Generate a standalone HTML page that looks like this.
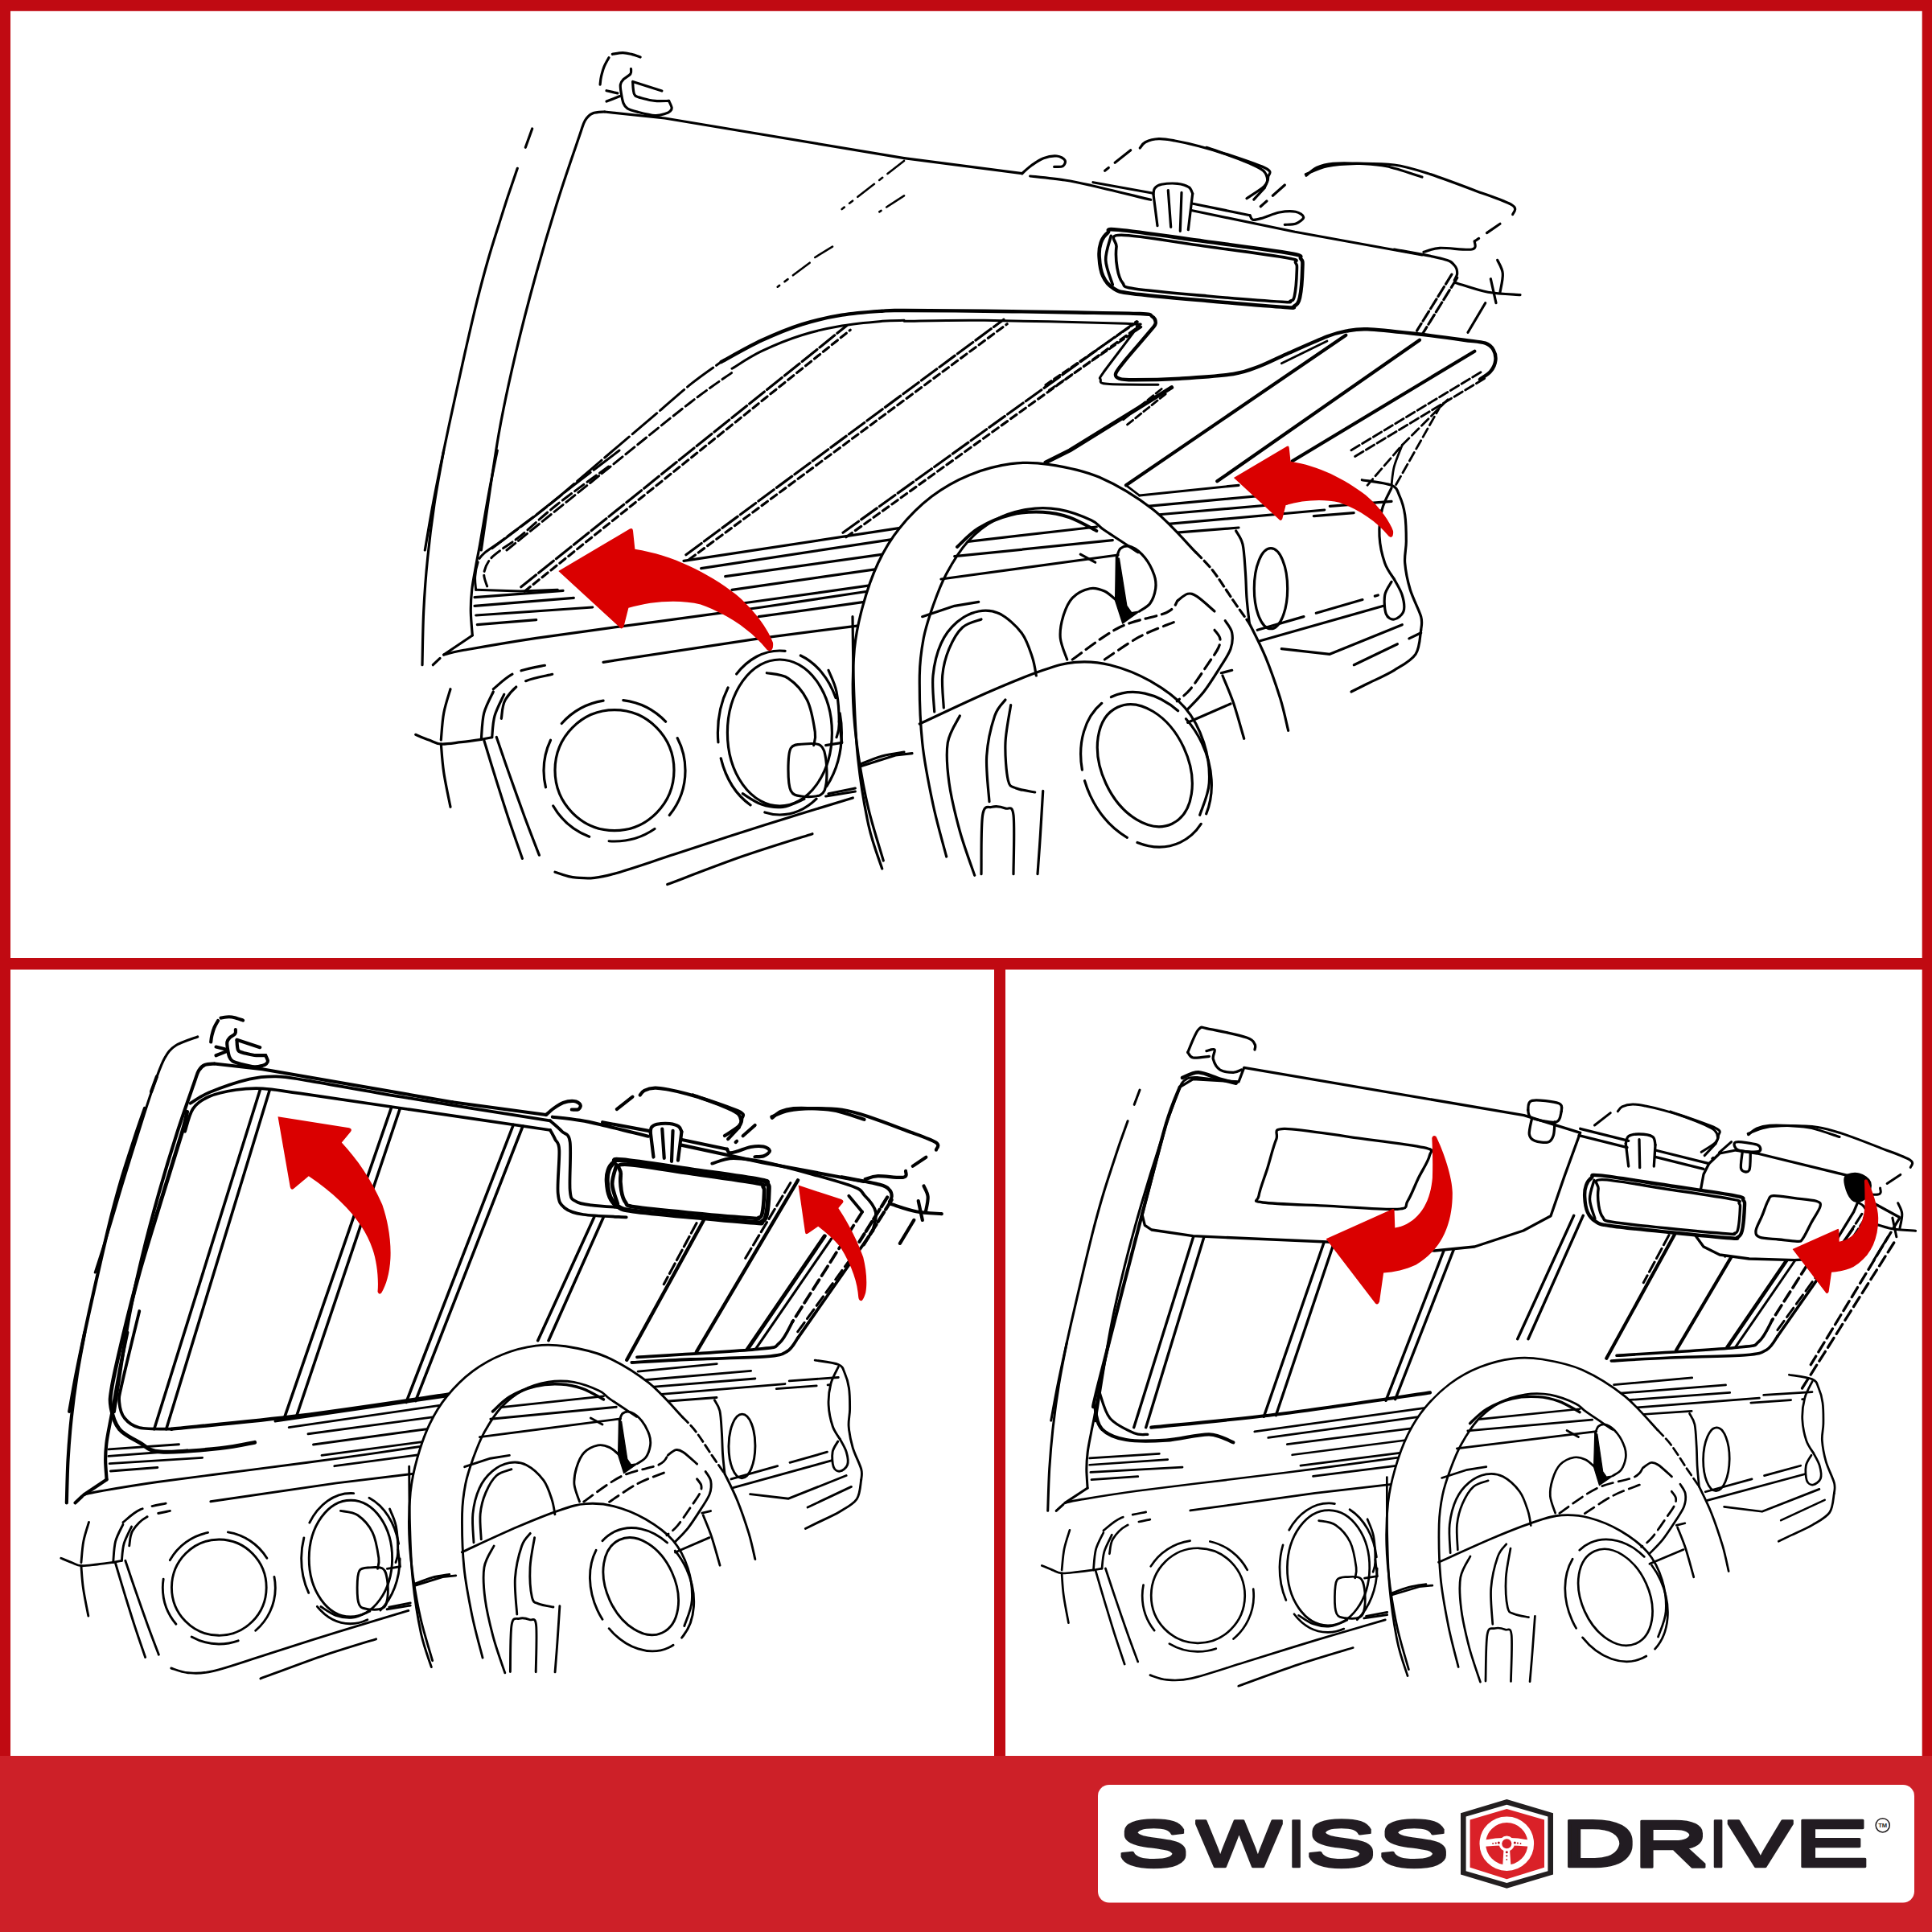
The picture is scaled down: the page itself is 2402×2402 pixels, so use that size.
<!DOCTYPE html>
<html><head><meta charset="utf-8"><title>Swiss Drive</title>
<style>
html,body{margin:0;padding:0;background:#fff;}
body{width:2402px;height:2402px;overflow:hidden;position:relative;font-family:"Liberation Sans",sans-serif;}
svg{position:absolute;left:0;top:0;display:block}
.k{fill:none;stroke:#000;stroke-linecap:round;stroke-linejoin:round}
</style></head><body>
<svg xmlns="http://www.w3.org/2000/svg" xmlns:xlink="http://www.w3.org/1999/xlink" width="2402" height="2402" viewBox="0 0 2402 2402">
<rect x="0" y="0" width="2402" height="2402" fill="#c00a12"/>
<rect x="13" y="13.800" width="2376.7" height="1177.2" fill="#fff"/>
<rect x="13" y="1205.5" width="1223" height="977.5" fill="#fff"/>
<rect x="1250" y="1205.5" width="1139.7" height="977.5" fill="#fff"/>
<rect x="0" y="2183" width="2402" height="219" fill="#cd2028"/>
<rect x="1365" y="2219" width="1015" height="146.500" rx="14" fill="#fff"/>
<!-- logo.svg -->
<filter id="thk" x="-0.02" y="-0.2" width="1.04" height="1.4"><feMorphology operator="dilate" radius="0 1.50"/></filter>
<g font-family="'Liberation Sans',sans-serif" font-size="100" fill="#231f20" stroke="#231f20" stroke-width="3.2" stroke-linejoin="round" filter="url(#thk)">
<text transform="translate(0,2318.80) scale(1,0.7786)" vector-effect="non-scaling-stroke"><tspan x="1389.56" textLength="88.97" lengthAdjust="spacingAndGlyphs">S</tspan><tspan x="1487.34" textLength="106.29" lengthAdjust="spacingAndGlyphs">W</tspan><tspan x="1599.77" textLength="23.64" lengthAdjust="spacingAndGlyphs">I</tspan><tspan x="1623.24" textLength="87.81" lengthAdjust="spacingAndGlyphs">S</tspan><tspan x="1713.18" textLength="88.74" lengthAdjust="spacingAndGlyphs">S</tspan></text>
<text transform="translate(0,2318.80) scale(1,0.7786)" vector-effect="non-scaling-stroke"><tspan x="1940.40" textLength="93.32" lengthAdjust="spacingAndGlyphs">D</tspan><tspan x="2030.65" textLength="93.78" lengthAdjust="spacingAndGlyphs">R</tspan><tspan x="2124.27" textLength="23.64" lengthAdjust="spacingAndGlyphs">I</tspan><tspan x="2148.90" textLength="79.59" lengthAdjust="spacingAndGlyphs">V</tspan><tspan x="2230.13" textLength="94.14" lengthAdjust="spacingAndGlyphs">E</tspan></text>
</g>
<polygon points="1873.3,2237 1931,2254.3 1931,2330.4 1873.3,2347.7 1816,2330.4 1816,2254.3" fill="#231f20"/>
<polygon points="1873.3,2243.8 1924.4,2258.6 1924.4,2326.2 1873.3,2341 1822.6,2326.2 1822.6,2258.6" fill="#fff"/>
<polygon points="1873.3,2249 1920,2262.4 1920,2321.8 1873.3,2336.2 1827.6,2321.8 1827.6,2262.4" fill="#da2128"/>
<circle cx="1873.3" cy="2292.2" r="30" fill="none" stroke="#fff" stroke-width="7.6"/>
<path d="M1845.3,2287.7 Q1873.3,2281.7 1901.3,2287.7 L1901.3,2295.7 Q1873.3,2292.7 1845.3,2295.7 Z" fill="#fff"/>
<path d="M1869.7,2296.2 L1876.9,2296.2 L1878.5,2321.2 L1868.1,2321.2 Z" fill="#fff"/>
<circle cx="1873.3" cy="2292.2" r="9.6" fill="#fff"/>
<circle cx="1873.3" cy="2292.2" r="6" fill="#d81f27"/>
<circle cx="1863.3" cy="2291.0" r="1.5" fill="#b5121b"/>
<circle cx="1883.3" cy="2291.0" r="1.5" fill="#b5121b"/>
<circle cx="1873.3" cy="2302.7" r="1.5" fill="#b5121b"/>
<circle cx="1859.7" cy="2291.5" r="1.1" fill="#b5121b"/>
<circle cx="1886.9" cy="2291.5" r="1.1" fill="#b5121b"/>
<circle cx="1873.3" cy="2307.3" r="1.1" fill="#b5121b"/>
<circle cx="1856.1" cy="2292.0" r="0.9" fill="#b5121b"/>
<circle cx="1890.5" cy="2292.0" r="0.9" fill="#b5121b"/>
<circle cx="1873.3" cy="2311.9" r="0.9" fill="#b5121b"/>
<circle cx="2340.7" cy="2269.3" r="8.6" fill="#fff" stroke="#231f20" stroke-width="1.5"/>
<text x="2340.7" y="2272.2" font-family="'Liberation Sans',sans-serif" font-weight="bold" font-size="8" text-anchor="middle" fill="#231f20" textLength="11" lengthAdjust="spacingAndGlyphs">TM</text>
<!-- defs.svg -->
<defs>
<g id="frame" fill="none" stroke="#000" stroke-linecap="round" stroke-linejoin="round">
<path d="M598.3,684.0 C601.9,660.0 612.9,580.7 620.0,540.0 C627.1,499.3 633.2,473.3 641.0,440.0 C648.8,406.7 657.8,372.2 666.7,340.0 C675.6,307.8 685.4,275.0 694.3,246.7 C703.2,218.3 714.5,186.1 720.0,170.0 C725.5,153.9 724.6,154.8 727.3,150.0 C730.1,145.2 732.6,142.8 736.7,141.0 C740.7,139.2 749.2,139.3 751.7,139.0" vector-effect="non-scaling-stroke" style="stroke-width:calc(var(--k,1)*3.20px)"/>
<path d="M751.7,139.0 L826.7,147.0 L1124.0,196.7" vector-effect="non-scaling-stroke" style="stroke-width:calc(var(--k,1)*3.20px)"/>
<path d="M661.7,160.0 L653.3,183.3" vector-effect="non-scaling-stroke" style="stroke-width:calc(var(--k,1)*3.20px)"/>
<path d="M643.3,209.3 C641.4,215.0 635.6,231.6 631.7,243.3 C627.8,255.1 624.2,266.7 620.0,280.0 C615.8,293.3 611.1,307.8 606.7,323.3 C602.2,338.9 597.8,355.6 593.3,373.3 C588.9,391.1 584.4,410.6 580.0,430.0 C575.6,449.4 571.4,468.3 566.7,490.0 C561.9,511.7 556.4,537.2 551.7,560.0 C546.9,582.8 542.2,606.0 538.3,626.7 C534.4,647.3 530.0,674.4 528.3,684.0" vector-effect="non-scaling-stroke" style="stroke-width:calc(var(--k,1)*3.20px)"/>
<path d="M551.7,560.0 C549.7,571.1 543.3,604.4 540.0,626.7 C536.7,648.9 533.9,671.1 531.7,693.3 C529.4,715.6 527.8,737.8 526.7,760.0 C525.6,782.2 525.3,815.6 525.0,826.7" vector-effect="non-scaling-stroke" style="stroke-width:calc(var(--k,1)*3.20px)"/>
<path d="M618.3,560.0 C616.7,568.3 611.9,590.6 608.3,610.0 C604.7,629.4 599.4,661.1 596.7,676.7 C593.9,692.2 593.3,693.9 591.7,703.3 C590.0,712.8 587.7,723.9 586.7,733.3 C585.6,742.8 585.2,750.6 585.3,760.0 C585.4,769.4 587.0,785.0 587.3,790.0" vector-effect="non-scaling-stroke" style="stroke-width:calc(var(--k,1)*3.20px)"/>
<path d="M587.3,790.0 L551.7,814.0" vector-effect="non-scaling-stroke" style="stroke-width:calc(var(--k,1)*3.20px)"/>
<path d="M538.3,826.7 L551.7,814.0" vector-effect="non-scaling-stroke" style="stroke-width:calc(var(--k,1)*3.20px)" stroke-dasharray="12 8"/>
<path d="M1733.3,310.0 C1743.3,311.9 1780.8,318.3 1793.3,321.7 C1805.8,325.0 1805.3,326.9 1808.3,330.0 C1811.4,333.1 1811.7,336.9 1811.7,340.0 C1811.7,343.1 1808.9,346.9 1808.3,348.3" vector-effect="non-scaling-stroke" style="stroke-width:calc(var(--k,1)*3.20px)"/>
<path d="M1811.7,345.4 L1768.4,415.4" vector-effect="non-scaling-stroke" style="stroke-width:calc(var(--k,1)*3.20px)" stroke-dasharray="14 4"/>
<path d="M1804.9,341.2 L1761.6,411.2" vector-effect="non-scaling-stroke" style="stroke-width:calc(var(--k,1)*3.20px)" stroke-dasharray="14 4"/>
</g>
<g id="roof" fill="none" stroke="#000" stroke-linecap="round" stroke-linejoin="round">
<path d="M761.3,67.4 C763.5,67.1 770.3,65.6 774.3,65.6 C778.3,65.6 781.6,66.5 785.2,67.4 C788.8,68.3 794.3,70.4 796.1,71.0" vector-effect="non-scaling-stroke" style="stroke-width:calc(var(--k,1)*3.20px)"/>
<path d="M757.0,71.7 C756.0,73.5 752.8,78.7 751.2,82.6 C749.6,86.5 748.4,91.2 747.5,94.9 C746.6,98.7 746.3,103.4 746.1,105.1" vector-effect="non-scaling-stroke" style="stroke-width:calc(var(--k,1)*3.20px)"/>
<path d="M784.5,85.5 C784.4,86.6 785.4,89.8 783.8,92.0 C782.2,94.2 777.2,96.4 775.1,98.6 C773.0,100.8 771.9,102.3 771.4,105.1 C770.9,107.9 771.6,111.3 772.2,115.2 C772.8,119.1 773.8,125.0 775.1,128.3 C776.4,131.6 777.2,133.0 780.1,134.8 C783.0,136.6 786.8,137.7 792.5,139.1 C798.2,140.5 808.4,143.1 814.2,143.5 C820.0,143.9 824.1,142.2 827.2,141.3 C830.3,140.5 831.7,139.6 833.0,138.4 C834.3,137.2 835.4,136.3 835.2,134.1 C835.0,131.9 832.2,126.9 831.6,125.4" vector-effect="non-scaling-stroke" style="stroke-width:calc(var(--k,1)*3.20px)"/>
<path d="M786.7,101.4 L822.9,113.0" vector-effect="non-scaling-stroke" style="stroke-width:calc(var(--k,1)*3.20px)"/>
<path d="M786.7,102.2 C786.8,103.8 786.9,108.8 787.4,111.6 C787.9,114.4 787.5,117.0 789.6,118.8 C791.7,120.6 795.6,121.4 799.7,122.5 C803.8,123.6 808.9,124.9 814.2,125.4 C819.5,125.9 828.7,125.4 831.6,125.4" vector-effect="non-scaling-stroke" style="stroke-width:calc(var(--k,1)*3.20px)"/>
<path d="M754.1,112.7 L767.8,115.9" vector-effect="non-scaling-stroke" style="stroke-width:calc(var(--k,1)*3.20px)"/>
<path d="M754.1,126.1 L770.7,119.6" vector-effect="non-scaling-stroke" style="stroke-width:calc(var(--k,1)*3.20px)"/>
<path d="M1124.0,196.7 L1270.7,215.7" vector-effect="non-scaling-stroke" style="stroke-width:calc(var(--k,1)*3.20px)"/>
<path d="M1270.7,215.7 C1272.6,214.0 1277.9,208.8 1282.3,205.7 C1286.8,202.5 1292.1,198.6 1297.3,196.7 C1302.6,194.7 1309.6,193.6 1314.0,194.0 C1318.4,194.4 1322.8,197.2 1324.0,199.3 C1325.2,201.4 1323.6,205.3 1321.3,206.7 C1319.1,208.0 1312.4,207.2 1310.7,207.3" vector-effect="non-scaling-stroke" style="stroke-width:calc(var(--k,1)*3.20px)"/>
<path d="M1280.7,219.0 C1287.9,219.8 1311.2,222.1 1324.0,224.0 C1336.8,225.9 1339.6,226.6 1357.3,230.7 C1375.1,234.7 1418.4,245.4 1430.7,248.3" vector-effect="non-scaling-stroke" style="stroke-width:calc(var(--k,1)*3.20px)"/>
<path d="M1359.0,226.7 L1432.3,240.0" vector-effect="non-scaling-stroke" style="stroke-width:calc(var(--k,1)*3.20px)"/>
<path d="M1434.0,241.7 C1434.3,240.4 1434.0,236.1 1435.7,234.0 C1437.3,231.9 1439.3,230.3 1444.0,229.3 C1448.7,228.4 1458.3,227.8 1464.0,228.3 C1469.7,228.9 1474.9,230.6 1478.0,232.7 C1481.1,234.7 1481.9,239.3 1482.7,240.7" vector-effect="non-scaling-stroke" style="stroke-width:calc(var(--k,1)*3.20px)"/>
<path d="M1434.0,241.7 L1439.0,280.7" vector-effect="non-scaling-stroke" style="stroke-width:calc(var(--k,1)*3.20px)"/>
<path d="M1482.7,240.7 L1477.3,285.7" vector-effect="non-scaling-stroke" style="stroke-width:calc(var(--k,1)*3.20px)"/>
<path d="M1452.3,236.7 L1455.7,282.3" vector-effect="non-scaling-stroke" style="stroke-width:calc(var(--k,1)*3.20px)"/>
<path d="M1469.0,239.3 L1467.3,287.3" vector-effect="non-scaling-stroke" style="stroke-width:calc(var(--k,1)*3.20px)"/>
<path d="M1483.3,253.3 L1554.0,267.7" vector-effect="non-scaling-stroke" style="stroke-width:calc(var(--k,1)*3.20px)"/>
<path d="M1482.3,261.7 L1610.0,288.3 L1768.0,317.0" vector-effect="non-scaling-stroke" style="stroke-width:calc(var(--k,1)*3.20px)"/>
<path d="M1554.0,267.7 C1554.7,268.6 1555.2,272.8 1558.0,273.3 C1560.8,273.8 1565.2,272.2 1570.7,270.7 C1576.1,269.1 1584.0,265.2 1590.7,264.0 C1597.3,262.8 1605.7,262.3 1610.7,263.3 C1615.7,264.3 1620.6,267.6 1620.7,270.0 C1620.8,272.4 1615.2,276.4 1611.3,278.0 C1607.4,279.6 1599.7,279.1 1597.3,279.3" vector-effect="non-scaling-stroke" style="stroke-width:calc(var(--k,1)*3.20px)"/>
</g>
<g id="liner" fill="none" stroke="#000" stroke-linecap="round" stroke-linejoin="round">
<path d="M1417.3,184.0 C1418.4,182.8 1420.1,178.6 1424.0,176.7 C1427.9,174.8 1434.6,172.9 1440.7,172.7 C1446.8,172.4 1452.3,173.5 1460.7,175.0 C1469.0,176.5 1480.1,178.9 1490.7,181.7 C1501.2,184.4 1513.4,188.1 1524.0,191.7 C1534.6,195.3 1546.2,199.9 1554.0,203.3 C1561.8,206.8 1567.1,209.0 1570.7,212.3 C1574.3,215.7 1575.4,219.8 1575.7,223.3 C1575.9,226.8 1572.9,231.7 1572.3,233.3" vector-effect="non-scaling-stroke" style="stroke-width:calc(var(--k,1)*3.20px)"/>
<path d="M1405.7,186.7 L1372.3,213.3" vector-effect="non-scaling-stroke" style="stroke-width:calc(var(--k,1)*3.20px)" stroke-dasharray="25 10 6 10"/>
<path d="M1572.3,233.3 L1554.0,253.3" vector-effect="non-scaling-stroke" style="stroke-width:calc(var(--k,1)*3.20px)" stroke-dasharray="20 10"/>
<path d="M1597.3,230.0 L1567.3,256.7" vector-effect="non-scaling-stroke" style="stroke-width:calc(var(--k,1)*3.20px)" stroke-dasharray="20 10"/>
<path d="M1624.0,218.3 C1626.2,216.7 1631.8,210.8 1637.3,208.3 C1642.9,205.8 1648.4,204.2 1657.3,203.3 C1666.2,202.5 1679.6,202.8 1690.7,203.3 C1701.8,203.9 1711.1,203.9 1724.0,206.7 C1736.9,209.4 1760.7,217.8 1768.0,220.0" vector-effect="non-scaling-stroke" style="stroke-width:calc(var(--k,1)*3.20px)"/>
<path d="M1623.3,216.7 C1627.8,215.0 1639.4,208.9 1650.0,206.7 C1660.6,204.4 1672.8,203.6 1686.7,203.3 C1700.6,203.1 1718.9,203.1 1733.3,205.0 C1747.8,206.9 1756.7,209.7 1773.3,215.0 C1790.0,220.3 1815.6,230.0 1833.3,236.7 C1851.1,243.3 1872.1,250.0 1880.0,255.0 C1887.9,260.0 1880.6,264.7 1880.7,266.7" vector-effect="non-scaling-stroke" style="stroke-width:calc(var(--k,1)*3.20px)"/>
<path d="M1865.0,278.3 L1833.3,300.0" vector-effect="non-scaling-stroke" style="stroke-width:calc(var(--k,1)*3.20px)" stroke-dasharray="20 12"/>
<path d="M1770.0,313.3 C1773.3,312.5 1780.0,308.9 1790.0,308.3 C1800.0,307.8 1822.8,311.4 1830.0,310.0 C1837.2,308.6 1832.8,301.7 1833.3,300.0" vector-effect="non-scaling-stroke" style="stroke-width:calc(var(--k,1)*3.20px)"/>
<path d="M1861.7,323.3 C1862.8,326.1 1867.8,333.3 1868.3,340.0 C1868.9,346.7 1865.6,359.4 1865.0,363.3" vector-effect="non-scaling-stroke" style="stroke-width:calc(var(--k,1)*3.20px)"/>
<path d="M1810.0,351.7 C1816.7,353.6 1836.7,360.8 1850.0,363.3 C1863.3,365.8 1883.3,366.1 1890.0,366.7" vector-effect="non-scaling-stroke" style="stroke-width:calc(var(--k,1)*3.20px)"/>
<path d="M1853.3,346.7 L1860.0,376.7" vector-effect="non-scaling-stroke" style="stroke-width:calc(var(--k,1)*3.20px)"/>
<path d="M1846.7,376.7 L1825.0,413.3" vector-effect="non-scaling-stroke" style="stroke-width:calc(var(--k,1)*3.20px)"/>
<path d="M1500.0,183.3 C1511.9,187.5 1558.9,202.2 1571.7,208.3 C1584.4,214.4 1576.7,216.1 1576.7,220.0 C1576.7,223.9 1576.1,227.2 1571.7,231.7 C1567.2,236.1 1553.6,244.2 1550.0,246.7" vector-effect="non-scaling-stroke" style="stroke-width:calc(var(--k,1)*3.20px)"/>
</g>
<g id="mirror" fill="none" stroke="#000" stroke-linecap="round" stroke-linejoin="round">
<path d="M1390.7,285.7 C1410.7,287.4 1461.8,295.1 1497.3,300.0 C1532.9,304.9 1584.0,311.4 1604.0,315.0 C1624.0,318.6 1614.8,318.6 1617.3,321.7 C1619.9,324.7 1619.6,325.3 1619.3,333.3 C1619.1,341.4 1617.7,362.1 1616.0,370.0 C1614.3,377.9 1612.1,378.7 1609.0,380.7 C1605.9,382.7 1615.4,383.1 1597.3,382.0 C1579.3,380.9 1532.3,376.8 1500.7,374.0 C1469.0,371.2 1426.8,367.6 1407.3,365.0 C1387.9,362.4 1390.0,361.9 1384.0,358.3 C1378.0,354.7 1374.2,349.7 1371.3,343.3 C1368.4,336.9 1367.1,326.9 1366.7,320.0 C1366.2,313.1 1366.9,306.8 1368.7,301.7 C1370.4,296.6 1373.7,292.0 1377.3,289.3 C1381.0,286.7 1370.7,283.9 1390.7,285.7Z" fill="#fff" stroke="#000" vector-effect="non-scaling-stroke" style="stroke-width:calc(var(--k,1)*4.60px)"/>
<path d="M1394.0,292.3 C1412.2,292.2 1462.9,301.3 1497.3,306.0 C1531.8,310.7 1581.8,317.2 1600.7,320.7 C1619.6,324.1 1608.7,324.0 1610.7,326.7 C1612.6,329.3 1612.6,329.7 1612.3,336.7 C1612.1,343.6 1610.7,362.1 1609.3,368.3 C1607.9,374.6 1606.6,373.2 1604.0,374.3 C1601.4,375.5 1611.2,376.4 1594.0,375.3 C1576.8,374.3 1531.2,370.7 1500.7,368.0 C1470.1,365.3 1428.2,361.7 1410.7,359.0 C1393.2,356.3 1399.3,355.9 1395.7,351.7 C1392.1,347.4 1390.3,340.8 1389.0,333.3 C1387.7,325.8 1387.2,313.5 1388.0,306.7 C1388.8,299.8 1375.8,292.4 1394.0,292.3Z" vector-effect="non-scaling-stroke" style="stroke-width:calc(var(--k,1)*3.60px)"/>
<path d="M1381.3,293.3 C1380.2,298.3 1374.3,313.2 1374.7,323.3 C1375.0,333.4 1381.9,348.9 1383.3,354.0" vector-effect="non-scaling-stroke" style="stroke-width:calc(var(--k,1)*3.60px)"/>
</g>
<g id="back" fill="none" stroke="#000" stroke-linecap="round" stroke-linejoin="round">
<path d="M551.7,814.0 C555.8,813.1 557.5,811.8 576.7,808.3 C595.8,804.9 627.2,799.2 666.7,793.3 C706.1,787.5 766.7,779.7 813.3,773.3 C860.0,766.9 902.2,761.4 946.7,755.0 C991.1,748.6 1057.8,738.3 1080.0,735.0" vector-effect="non-scaling-stroke" style="stroke-width:calc(var(--k,1)*3.20px)"/>
<path d="M750.0,823.3 L946.7,793.3 L1103.3,773.3" vector-effect="non-scaling-stroke" style="stroke-width:calc(var(--k,1)*3.20px)"/>
<path d="M590.0,742.7 L700.0,734.3" vector-effect="non-scaling-stroke" style="stroke-width:calc(var(--k,1)*3.20px)"/>
<path d="M590.0,753.3 L713.3,743.3" vector-effect="non-scaling-stroke" style="stroke-width:calc(var(--k,1)*3.20px)"/>
<path d="M591.7,765.0 L736.7,755.0" vector-effect="non-scaling-stroke" style="stroke-width:calc(var(--k,1)*3.20px)"/>
<path d="M593.3,776.7 L666.7,770.7" vector-effect="non-scaling-stroke" style="stroke-width:calc(var(--k,1)*3.20px)"/>
<path d="M850.0,697.3 L1124.0,655.7" vector-effect="non-scaling-stroke" style="stroke-width:calc(var(--k,1)*3.20px)"/>
<path d="M871.7,706.7 L1124.0,668.3" vector-effect="non-scaling-stroke" style="stroke-width:calc(var(--k,1)*3.20px)"/>
<path d="M901.7,716.7 L1103.3,688.3" vector-effect="non-scaling-stroke" style="stroke-width:calc(var(--k,1)*3.20px)"/>
<path d="M910.0,733.3 L1096.7,706.7" vector-effect="non-scaling-stroke" style="stroke-width:calc(var(--k,1)*3.20px)"/>
<path d="M923.3,750.0 L1090.0,726.7" vector-effect="non-scaling-stroke" style="stroke-width:calc(var(--k,1)*3.20px)"/>
<path d="M943.3,766.7 L1086.7,746.7" vector-effect="non-scaling-stroke" style="stroke-width:calc(var(--k,1)*3.20px)"/>
<path d="M1416.7,616.0 L1540.0,603.3" vector-effect="non-scaling-stroke" style="stroke-width:calc(var(--k,1)*3.20px)"/>
<path d="M1426.7,629.3 L1593.3,614.0" vector-effect="non-scaling-stroke" style="stroke-width:calc(var(--k,1)*3.20px)"/>
<path d="M1438.3,640.0 L1600.0,626.0" vector-effect="non-scaling-stroke" style="stroke-width:calc(var(--k,1)*3.20px)"/>
<path d="M1450.0,651.7 L1646.7,634.0" vector-effect="non-scaling-stroke" style="stroke-width:calc(var(--k,1)*3.20px)"/>
<path d="M1456.7,662.7 L1540.0,656.0" vector-effect="non-scaling-stroke" style="stroke-width:calc(var(--k,1)*3.20px)"/>
<path d="M1653.3,629.3 L1730.0,623.3" vector-effect="non-scaling-stroke" style="stroke-width:calc(var(--k,1)*3.20px)"/>
<path d="M1633.3,641.7 L1716.7,635.0" vector-effect="non-scaling-stroke" style="stroke-width:calc(var(--k,1)*3.20px)" stroke-dasharray="50 14"/>
</g>
<g id="rimfill" fill="none" stroke="#000" stroke-linecap="round" stroke-linejoin="round">
<path d="M1098.3,1070.0 C1082.2,1060.3 1085.2,1028.3 1080.0,1006.7 C1074.8,985.0 1070.6,962.2 1067.3,940.0 C1064.1,917.8 1061.5,895.6 1060.7,873.3 C1059.8,851.1 1060.3,826.7 1062.3,806.7 C1064.3,786.7 1067.8,771.1 1072.7,753.3 C1077.6,735.6 1084.1,716.1 1091.7,700.0 C1099.3,683.9 1107.2,670.4 1118.3,656.7 C1129.4,642.9 1143.9,628.3 1158.3,617.3 C1172.8,606.3 1188.6,597.4 1205.0,590.7 C1221.4,583.9 1240.3,578.9 1256.7,576.7 C1273.1,574.4 1285.0,574.6 1303.3,577.3 C1321.7,580.1 1345.0,584.0 1366.7,593.3 C1388.3,602.7 1413.3,617.8 1433.3,633.3 C1453.3,648.9 1474.2,673.9 1486.7,686.7 C1499.2,699.4 1500.6,700.0 1508.3,710.0 C1516.1,720.0 1525.8,735.8 1533.3,746.7 C1540.8,757.5 1546.7,763.3 1553.3,775.0 C1560.0,786.7 1566.9,801.1 1573.3,816.7 C1579.7,832.2 1586.9,853.1 1591.7,868.3 C1596.4,883.6 1609.2,900.0 1601.7,908.3 C1594.2,916.7 1558.1,924.2 1546.7,918.3 C1535.3,912.5 1537.8,886.4 1533.3,873.3 C1528.9,860.3 1526.1,853.3 1520.0,840.0 C1513.9,826.7 1506.1,810.0 1496.7,793.3 C1487.2,776.7 1476.9,757.8 1463.3,740.0 C1449.7,722.2 1430.0,700.1 1415.0,686.7 C1400.0,673.2 1383.1,666.0 1373.3,659.3 C1363.6,652.7 1366.1,651.0 1356.7,646.7 C1347.2,642.3 1330.0,635.6 1316.7,633.3 C1303.3,631.1 1290.0,631.1 1276.7,633.3 C1263.3,635.6 1248.9,640.0 1236.7,646.7 C1224.4,653.3 1213.3,662.2 1203.3,673.3 C1193.3,684.4 1183.9,700.0 1176.7,713.3 C1169.4,726.7 1164.7,740.0 1160.0,753.3 C1155.3,766.7 1151.1,778.9 1148.3,793.3 C1145.6,807.8 1143.6,818.3 1143.3,840.0 C1143.1,861.7 1143.9,896.7 1146.7,923.3 C1149.4,950.0 1155.0,976.4 1160.0,1000.0 C1165.0,1023.6 1186.9,1053.3 1176.7,1065.0 C1166.4,1076.7 1114.4,1079.7 1098.3,1070.0Z" fill="#fff" stroke="none"/>
</g>
<g id="dash" fill="none" stroke="#000" stroke-linecap="round" stroke-linejoin="round">
<path d="M560.0,856.7 C558.6,861.7 553.6,876.1 551.7,886.7 C549.7,897.2 548.9,914.4 548.3,920.0" vector-effect="non-scaling-stroke" style="stroke-width:calc(var(--k,1)*3.20px)"/>
<path d="M516.7,913.3 C519.4,914.4 528.1,918.1 533.3,920.0 C538.6,921.9 541.7,924.6 548.3,925.0 C555.0,925.4 565.0,923.6 573.3,922.7 C581.7,921.7 594.2,919.9 598.3,919.3" vector-effect="non-scaling-stroke" style="stroke-width:calc(var(--k,1)*3.20px)"/>
<path d="M548.3,925.0 C548.9,930.8 549.7,946.9 551.7,960.0 C553.6,973.1 558.6,996.1 560.0,1003.3" vector-effect="non-scaling-stroke" style="stroke-width:calc(var(--k,1)*3.20px)"/>
<path d="M598.3,919.3 C598.9,913.9 599.2,896.6 601.7,886.7 C604.2,876.8 611.4,864.4 613.3,860.0" vector-effect="non-scaling-stroke" style="stroke-width:calc(var(--k,1)*3.20px)"/>
<path d="M598.3,919.3 L611.7,916.7" vector-effect="non-scaling-stroke" style="stroke-width:calc(var(--k,1)*3.20px)"/>
<path d="M601.9,920.7 C604.4,928.9 611.8,953.5 617.0,970.0 C622.2,986.5 627.6,1003.8 633.0,1020.0 C638.4,1036.2 646.7,1059.5 649.4,1067.4" vector-effect="non-scaling-stroke" style="stroke-width:calc(var(--k,1)*3.20px)"/>
<path d="M617.3,916.5 C619.9,924.1 627.2,945.6 633.0,962.0 C638.8,978.4 645.8,998.1 652.0,1015.0 C658.2,1031.9 667.3,1055.2 670.4,1063.2" vector-effect="non-scaling-stroke" style="stroke-width:calc(var(--k,1)*3.20px)"/>
<path d="M611.7,916.7 C612.2,912.2 612.5,898.9 615.0,890.0 C617.5,881.1 624.7,867.8 626.7,863.3" vector-effect="non-scaling-stroke" style="stroke-width:calc(var(--k,1)*3.20px)"/>
<path d="M613.3,856.7 C617.8,853.3 628.9,841.7 640.0,836.7 C651.1,831.7 673.3,828.3 680.0,826.7" vector-effect="non-scaling-stroke" style="stroke-width:calc(var(--k,1)*3.20px)" stroke-dasharray="30 12"/>
<path d="M623.3,893.3 C624.2,889.4 623.9,877.5 628.3,870.0 C632.8,862.5 640.3,853.6 650.0,848.3 C659.7,843.1 680.6,840.0 686.7,838.3" vector-effect="non-scaling-stroke" style="stroke-width:calc(var(--k,1)*3.20px)" stroke-dasharray="45 14"/>
<path d="M690.0,1084.2 C694.4,1085.4 705.6,1090.5 716.5,1091.2 C727.4,1091.9 735.1,1093.3 755.6,1088.4 C776.1,1083.5 806.9,1072.3 839.5,1061.8 C872.1,1051.3 914.5,1037.1 951.3,1025.5 C988.1,1013.9 1042.1,997.6 1060.3,992.0" vector-effect="non-scaling-stroke" style="stroke-width:calc(var(--k,1)*3.20px)"/>
<path d="M829.7,1099.6 C845.3,1093.8 893.2,1075.1 923.3,1064.6 C953.3,1054.1 995.5,1041.3 1010.0,1036.7" vector-effect="non-scaling-stroke" style="stroke-width:calc(var(--k,1)*3.20px)"/>
<ellipse cx="764.0" cy="957.6" rx="74.0" ry="75.0" transform="rotate(0 764.0 957.6)" vector-effect="non-scaling-stroke" style="stroke-width:calc(var(--k,1)*3.20px)"/>
<ellipse cx="764.0" cy="958.0" rx="88.0" ry="88.0" transform="rotate(0 764.0 958.0)" vector-effect="non-scaling-stroke" style="stroke-width:calc(var(--k,1)*3.20px)" stroke-dasharray="60 25"/>
<ellipse cx="969.4" cy="911.0" rx="65.0" ry="91.0" transform="rotate(0 969.4 911.0)" vector-effect="non-scaling-stroke" style="stroke-width:calc(var(--k,1)*3.20px)"/>
<ellipse cx="969.4" cy="911.0" rx="77.0" ry="102.0" transform="rotate(0 969.4 911.0)" vector-effect="non-scaling-stroke" style="stroke-width:calc(var(--k,1)*3.20px)" stroke-dasharray="70 20"/>
<path d="M953.3,836.7 C957.8,837.8 971.7,837.8 980.0,843.3 C988.3,848.9 997.8,858.9 1003.3,870.0 C1008.9,881.1 1011.9,900.6 1013.3,910.0 C1014.7,919.4 1011.9,923.9 1011.7,926.7" vector-effect="non-scaling-stroke" style="stroke-width:calc(var(--k,1)*3.20px)"/>
<path d="M923.3,986.7 C927.2,988.9 938.3,997.2 946.7,1000.0 C955.0,1002.8 964.4,1004.4 973.3,1003.3 C982.2,1002.2 995.6,995.0 1000.0,993.3" vector-effect="non-scaling-stroke" style="stroke-width:calc(var(--k,1)*3.20px)"/>
<path d="M983.3,930.0 C986.7,924.7 993.9,925.6 1000.0,925.0 C1006.1,924.4 1015.6,923.6 1020.0,926.7 C1024.4,929.7 1025.4,935.6 1026.7,943.3 C1027.9,951.1 1028.4,965.8 1027.3,973.3 C1026.2,980.8 1025.1,985.6 1020.0,988.3 C1014.9,991.1 1002.8,990.8 996.7,990.0 C990.6,989.2 986.1,988.9 983.3,983.3 C980.6,977.8 980.0,965.6 980.0,956.7 C980.0,947.8 980.0,935.3 983.3,930.0Z" vector-effect="non-scaling-stroke" style="stroke-width:calc(var(--k,1)*3.20px)"/>
<path d="M1026.7,926.7 L1046.7,923.3" vector-effect="non-scaling-stroke" style="stroke-width:calc(var(--k,1)*3.20px)"/>
<path d="M1026.7,990.0 L1063.3,984.0" vector-effect="non-scaling-stroke" style="stroke-width:calc(var(--k,1)*3.20px)"/>
<path d="M1043.3,896.7 L1046.7,923.3" vector-effect="non-scaling-stroke" style="stroke-width:calc(var(--k,1)*3.20px)"/>
<path d="M1060.0,766.7 C1060.3,782.2 1060.6,830.6 1061.7,860.0 C1062.8,889.4 1063.6,915.6 1066.7,943.3 C1069.7,971.1 1075.0,1003.9 1080.0,1026.7 C1085.0,1049.4 1093.9,1071.1 1096.7,1080.0" vector-effect="non-scaling-stroke" style="stroke-width:calc(var(--k,1)*3.20px)"/>
<path d="M1070.0,950.0 C1074.4,948.3 1087.7,942.5 1096.7,940.0 C1105.7,937.5 1119.4,935.8 1124.0,935.0" vector-effect="non-scaling-stroke" style="stroke-width:calc(var(--k,1)*3.20px)"/>
<path d="M1693.3,596.7 C1699.4,597.8 1722.2,600.0 1730.0,603.3 C1737.8,606.7 1737.2,610.6 1740.0,616.7 C1742.8,622.8 1745.3,630.6 1746.7,640.0 C1748.1,649.4 1748.3,663.3 1748.3,673.3 C1748.3,683.3 1745.8,690.0 1746.7,700.0 C1747.5,710.0 1750.0,722.2 1753.3,733.3 C1756.7,744.4 1764.4,758.3 1766.7,766.7 C1768.9,775.0 1766.7,780.6 1766.7,783.3" vector-effect="non-scaling-stroke" style="stroke-width:calc(var(--k,1)*3.20px)"/>
<path d="M1730.0,606.7 C1728.1,611.1 1720.8,623.3 1718.3,633.3 C1715.8,643.3 1714.4,655.6 1715.0,666.7 C1715.6,677.8 1718.6,691.1 1721.7,700.0 C1724.7,708.9 1731.4,716.7 1733.3,720.0" vector-effect="non-scaling-stroke" style="stroke-width:calc(var(--k,1)*3.20px)"/>
<path d="M1733.3,720.0 C1735.0,723.3 1741.4,733.3 1743.3,740.0 C1745.3,746.7 1746.7,755.0 1745.0,760.0 C1743.3,765.0 1736.9,769.4 1733.3,770.0 C1729.7,770.6 1725.3,768.3 1723.3,763.3 C1721.4,758.3 1720.6,746.7 1721.7,740.0 C1722.8,733.3 1728.6,726.1 1730.0,723.3" vector-effect="non-scaling-stroke" style="stroke-width:calc(var(--k,1)*3.20px)"/>
<path d="M1766.7,783.3 C1765.6,788.3 1765.6,805.0 1760.0,813.3 C1754.4,821.7 1743.3,827.2 1733.3,833.3 C1723.3,839.4 1708.9,845.6 1700.0,850.0 C1691.1,854.4 1683.3,858.3 1680.0,860.0" vector-effect="non-scaling-stroke" style="stroke-width:calc(var(--k,1)*3.20px)"/>
<ellipse cx="1580.0" cy="731.7" rx="20.7" ry="50.0" transform="rotate(0 1580.0 731.7)" vector-effect="non-scaling-stroke" style="stroke-width:calc(var(--k,1)*3.20px)"/>
<path d="M1563.3,783.3 L1713.3,740.0" vector-effect="non-scaling-stroke" style="stroke-width:calc(var(--k,1)*3.20px)" stroke-dasharray="60 16"/>
<path d="M1566.7,796.7 L1720.0,753.3" vector-effect="non-scaling-stroke" style="stroke-width:calc(var(--k,1)*3.20px)"/>
<path d="M1593.3,806.7 L1653.3,813.3 L1743.3,776.7" vector-effect="non-scaling-stroke" style="stroke-width:calc(var(--k,1)*3.20px)"/>
<path d="M1683.3,826.7 L1766.7,786.7" vector-effect="non-scaling-stroke" style="stroke-width:calc(var(--k,1)*3.20px)" stroke-dasharray="60 16"/>
<path d="M1098.3,1070.0 C1095.3,1059.4 1085.2,1028.3 1080.0,1006.7 C1074.8,985.0 1070.6,962.2 1067.3,940.0 C1064.1,917.8 1061.5,895.6 1060.7,873.3 C1059.8,851.1 1060.3,826.7 1062.3,806.7 C1064.3,786.7 1067.8,771.1 1072.7,753.3 C1077.6,735.6 1084.1,716.1 1091.7,700.0 C1099.3,683.9 1107.2,670.4 1118.3,656.7 C1129.4,642.9 1143.9,628.3 1158.3,617.3 C1172.8,606.3 1188.6,597.4 1205.0,590.7 C1221.4,583.9 1240.3,578.9 1256.7,576.7 C1273.1,574.4 1285.0,574.6 1303.3,577.3 C1321.7,580.1 1345.0,584.0 1366.7,593.3 C1388.3,602.7 1413.3,617.8 1433.3,633.3 C1453.3,648.9 1477.8,677.8 1486.7,686.7" vector-effect="non-scaling-stroke" style="stroke-width:calc(var(--k,1)*3.20px)"/>
<path d="M1486.7,686.7 C1490.3,690.6 1500.6,700.0 1508.3,710.0 C1516.1,720.0 1525.8,735.8 1533.3,746.7 C1540.8,757.5 1550.0,770.3 1553.3,775.0" vector-effect="non-scaling-stroke" style="stroke-width:calc(var(--k,1)*3.20px)" stroke-dasharray="10 5"/>
<path d="M1553.3,775.0 C1556.7,781.9 1566.9,801.1 1573.3,816.7 C1579.7,832.2 1586.9,853.1 1591.7,868.3 C1596.4,883.6 1600.0,901.7 1601.7,908.3" vector-effect="non-scaling-stroke" style="stroke-width:calc(var(--k,1)*3.20px)"/>
<path d="M1176.7,1065.0 C1173.9,1054.2 1165.0,1023.6 1160.0,1000.0 C1155.0,976.4 1149.4,950.0 1146.7,923.3 C1143.9,896.7 1143.1,861.7 1143.3,840.0 C1143.6,818.3 1145.6,807.8 1148.3,793.3 C1151.1,778.9 1155.3,766.7 1160.0,753.3 C1164.7,740.0 1169.4,726.7 1176.7,713.3 C1183.9,700.0 1193.3,684.4 1203.3,673.3 C1213.3,662.2 1224.4,653.3 1236.7,646.7 C1248.9,640.0 1263.3,635.6 1276.7,633.3 C1290.0,631.1 1303.3,631.1 1316.7,633.3 C1330.0,635.6 1347.2,642.3 1356.7,646.7 C1366.1,651.0 1363.6,652.7 1373.3,659.3 C1383.1,666.0 1408.1,682.1 1415.0,686.7" vector-effect="non-scaling-stroke" style="stroke-width:calc(var(--k,1)*3.20px)"/>
<path d="M1520.0,840.0 C1522.2,845.6 1528.9,860.3 1533.3,873.3 C1537.8,886.4 1544.4,910.8 1546.7,918.3" vector-effect="non-scaling-stroke" style="stroke-width:calc(var(--k,1)*3.20px)"/>
<path d="M1211.7,1088.3 C1208.6,1079.2 1198.6,1052.5 1193.3,1033.3 C1188.1,1014.2 1182.5,991.7 1180.0,973.3 C1177.5,955.0 1176.1,937.2 1178.3,923.3 C1180.6,909.4 1190.8,895.6 1193.3,890.0" vector-effect="non-scaling-stroke" style="stroke-width:calc(var(--k,1)*3.20px)"/>
<path d="M1230.0,996.7 C1229.4,987.2 1225.6,957.8 1226.7,940.0 C1227.8,922.2 1232.8,901.7 1236.7,890.0 C1240.6,878.3 1247.8,873.3 1250.0,870.0" vector-effect="non-scaling-stroke" style="stroke-width:calc(var(--k,1)*3.20px)"/>
<path d="M1070.0,952.7 L1113.3,939.0 L1134.0,936.7" vector-effect="non-scaling-stroke" style="stroke-width:calc(var(--k,1)*3.20px)"/>
<path d="M1143.3,900.0 C1157.8,893.3 1204.4,871.1 1230.0,860.0 C1255.6,848.9 1278.9,839.4 1296.7,833.3 C1314.4,827.2 1322.8,824.4 1336.7,823.3 C1350.6,822.2 1364.4,822.8 1380.0,826.7 C1395.6,830.6 1414.4,837.8 1430.0,846.7 C1445.6,855.6 1462.2,867.2 1473.3,880.0 C1484.4,892.8 1491.7,907.8 1496.7,923.3 C1501.7,938.9 1504.2,958.3 1503.3,973.3 C1502.5,988.3 1493.6,1006.7 1491.7,1013.3" vector-effect="non-scaling-stroke" style="stroke-width:calc(var(--k,1)*3.20px)"/>
<ellipse cx="1425.0" cy="956.7" rx="76.7" ry="100.0" transform="rotate(-25 1425.0 956.7)" vector-effect="non-scaling-stroke" style="stroke-width:calc(var(--k,1)*3.20px)" stroke-dasharray="90 14"/>
<ellipse cx="1423.3" cy="951.7" rx="53.3" ry="80.0" transform="rotate(-25 1423.3 951.7)" vector-effect="non-scaling-stroke" style="stroke-width:calc(var(--k,1)*3.20px)"/>
<path d="M1256.7,876.7 C1255.6,884.4 1250.6,907.8 1250.0,923.3 C1249.4,938.9 1251.1,960.6 1253.3,970.0 C1255.6,979.4 1257.8,977.5 1263.3,980.0 C1268.9,982.5 1282.8,984.2 1286.7,985.0" vector-effect="non-scaling-stroke" style="stroke-width:calc(var(--k,1)*3.20px)"/>
<path d="M1296.7,983.3 C1296.1,992.8 1294.4,1022.8 1293.3,1040.0 C1292.2,1057.2 1290.6,1078.9 1290.0,1086.7" vector-effect="non-scaling-stroke" style="stroke-width:calc(var(--k,1)*3.20px)"/>
<path d="M1220.0,1086.7 C1220.3,1074.4 1219.4,1027.2 1221.7,1013.3 C1223.9,999.4 1228.6,1004.7 1233.3,1003.3 C1238.1,1001.9 1245.6,1003.3 1250.0,1005.0 C1254.4,1006.7 1258.3,999.7 1260.0,1013.3 C1261.7,1026.9 1260.0,1074.4 1260.0,1086.7" vector-effect="non-scaling-stroke" style="stroke-width:calc(var(--k,1)*3.20px)"/>
<path d="M1190.0,680.0 C1194.4,676.1 1205.6,663.3 1216.7,656.7 C1227.8,650.0 1243.3,643.3 1256.7,640.0 C1270.0,636.7 1284.4,636.1 1296.7,636.7 C1308.9,637.2 1318.9,639.4 1330.0,643.3 C1341.1,647.2 1357.8,657.2 1363.3,660.0" vector-effect="non-scaling-stroke" style="stroke-width:calc(var(--k,1)*4.00px)"/>
<path d="M1203.3,673.3 L1363.3,655.0" vector-effect="non-scaling-stroke" style="stroke-width:calc(var(--k,1)*3.20px)"/>
<path d="M1186.7,691.7 L1383.3,671.7" vector-effect="non-scaling-stroke" style="stroke-width:calc(var(--k,1)*3.20px)"/>
<path d="M1170.0,720.0 L1390.0,690.0" vector-effect="non-scaling-stroke" style="stroke-width:calc(var(--k,1)*3.20px)"/>
<path d="M1146.7,766.7 L1186.7,753.3 L1216.7,748.3" vector-effect="non-scaling-stroke" style="stroke-width:calc(var(--k,1)*3.20px)"/>
<path d="M1161.7,885.0 C1161.4,877.5 1158.6,854.2 1160.0,840.0 C1161.4,825.8 1165.0,811.1 1170.0,800.0 C1175.0,788.9 1182.2,780.0 1190.0,773.3 C1197.8,766.7 1207.8,761.7 1216.7,760.0 C1225.6,758.3 1234.4,758.9 1243.3,763.3 C1252.2,767.8 1263.3,777.8 1270.0,786.7 C1276.7,795.6 1280.3,807.8 1283.3,816.7 C1286.4,825.6 1287.5,836.1 1288.3,840.0" vector-effect="non-scaling-stroke" style="stroke-width:calc(var(--k,1)*3.20px)"/>
<path d="M1173.3,880.0 C1173.1,873.3 1170.6,852.2 1171.7,840.0 C1172.8,827.8 1175.8,816.7 1180.0,806.7 C1184.2,796.7 1190.0,786.1 1196.7,780.0 C1203.3,773.9 1216.1,771.7 1220.0,770.0" vector-effect="non-scaling-stroke" style="stroke-width:calc(var(--k,1)*3.20px)"/>
<path d="M1326.7,820.0 C1325.3,815.6 1319.2,802.2 1318.3,793.3 C1317.5,784.4 1319.2,775.0 1321.7,766.7 C1324.2,758.3 1327.8,749.2 1333.3,743.3 C1338.9,737.5 1348.3,733.1 1355.0,731.7 C1361.7,730.3 1367.8,732.5 1373.3,735.0 C1378.9,737.5 1385.8,744.7 1388.3,746.7" vector-effect="non-scaling-stroke" style="stroke-width:calc(var(--k,1)*3.20px)"/>
<path d="M1388.3,693.3 C1389.2,691.4 1390.3,683.9 1393.3,681.7 C1396.4,679.4 1401.7,678.1 1406.7,680.0 C1411.7,681.9 1418.6,687.5 1423.3,693.3 C1428.1,699.2 1432.8,708.6 1435.0,715.0 C1437.2,721.4 1437.5,725.8 1436.7,731.7 C1435.8,737.5 1433.3,745.3 1430.0,750.0 C1426.7,754.7 1418.9,758.3 1416.7,760.0" vector-effect="non-scaling-stroke" style="stroke-width:calc(var(--k,1)*3.20px)"/>
<path d="M1387.5,693.3 L1391.3,694.2 L1400.8,753.3 L1406.7,761.7 L1416.7,760.0 L1395.8,775.0 L1386.7,746.7Z" fill="#000" stroke="#000" vector-effect="non-scaling-stroke" style="stroke-width:calc(var(--k,1)*1.50px)"/>
<path d="M1343.3,689.2 L1361.7,699.2" vector-effect="non-scaling-stroke" style="stroke-width:calc(var(--k,1)*3.20px)"/>
<path d="M1464.2,746.7 C1466.2,745.3 1472.6,739.2 1476.7,738.3 C1480.7,737.5 1482.8,738.1 1488.3,741.7 C1493.9,745.3 1506.4,756.9 1510.0,760.0" vector-effect="non-scaling-stroke" style="stroke-width:calc(var(--k,1)*3.20px)"/>
<path d="M1523.3,771.7 C1524.7,774.2 1530.6,780.8 1531.7,786.7 C1532.8,792.5 1532.5,799.4 1530.0,806.7 C1527.5,813.9 1522.2,821.1 1516.7,830.0 C1511.1,838.9 1503.3,851.4 1496.7,860.0 C1490.0,868.6 1480.0,878.1 1476.7,881.7" vector-effect="non-scaling-stroke" style="stroke-width:calc(var(--k,1)*3.20px)"/>
<path d="M1510.0,783.3 C1511.1,785.0 1515.8,789.7 1516.7,793.3 C1517.5,796.9 1517.2,800.0 1515.0,805.0 C1512.8,810.0 1509.2,814.7 1503.3,823.3 C1497.5,831.9 1486.7,848.6 1480.0,856.7 C1473.3,864.7 1466.1,869.2 1463.3,871.7" vector-effect="non-scaling-stroke" style="stroke-width:calc(var(--k,1)*3.20px)" stroke-dasharray="14 7"/>
<path d="M1333.3,820.0 C1343.1,813.3 1372.2,789.7 1391.7,780.0 C1411.1,770.3 1437.9,767.2 1450.0,761.7 C1462.1,756.1 1461.8,749.2 1464.2,746.7" vector-effect="non-scaling-stroke" style="stroke-width:calc(var(--k,1)*3.20px)" stroke-dasharray="14 7"/>
<path d="M1373.3,820.0 C1380.6,815.3 1402.2,799.4 1416.7,791.7 C1431.1,783.9 1452.8,776.4 1460.0,773.3" vector-effect="non-scaling-stroke" style="stroke-width:calc(var(--k,1)*3.20px)" stroke-dasharray="14 7"/>
<path d="M1476.7,898.3 L1530.0,875.0" vector-effect="non-scaling-stroke" style="stroke-width:calc(var(--k,1)*3.20px)"/>
<path d="M1518.3,836.7 L1531.7,833.3" vector-effect="non-scaling-stroke" style="stroke-width:calc(var(--k,1)*3.20px)"/>
<path d="M1536.7,660.0 C1538.1,662.8 1543.1,668.3 1545.0,676.7 C1546.9,685.0 1547.5,698.9 1548.3,710.0 C1549.2,721.1 1549.2,732.5 1550.0,743.3 C1550.8,754.2 1552.8,769.7 1553.3,775.0" vector-effect="non-scaling-stroke" style="stroke-width:calc(var(--k,1)*3.20px)"/>
<path d="M1030.0,833.3 C1031.7,837.8 1037.8,848.9 1040.0,860.0 C1042.2,871.1 1043.3,890.6 1043.3,900.0 C1043.3,909.4 1040.6,913.9 1040.0,916.7" vector-effect="non-scaling-stroke" style="stroke-width:calc(var(--k,1)*3.20px)"/>
<path d="M1030.0,986.7 L1063.3,980.0" vector-effect="non-scaling-stroke" style="stroke-width:calc(var(--k,1)*3.20px)"/>
</g>
<g id="shade" fill="none" stroke="#000" stroke-linecap="round" stroke-linejoin="round">
<path d="M323.3,1355.0 L191.7,1776.7" vector-effect="non-scaling-stroke" style="stroke-width:calc(var(--k,1)*3.40px)"/>
<path d="M335.0,1356.0 L206.7,1776.7" vector-effect="non-scaling-stroke" style="stroke-width:calc(var(--k,1)*3.40px)"/>
<path d="M486.7,1376.7 L353.3,1763.3" vector-effect="non-scaling-stroke" style="stroke-width:calc(var(--k,1)*3.40px)"/>
<path d="M497.3,1378.3 L368.3,1761.7" vector-effect="non-scaling-stroke" style="stroke-width:calc(var(--k,1)*3.40px)"/>
<path d="M638.3,1398.3 L505.0,1743.3" vector-effect="non-scaling-stroke" style="stroke-width:calc(var(--k,1)*3.40px)"/>
<path d="M650.0,1400.0 L516.7,1741.7" vector-effect="non-scaling-stroke" style="stroke-width:calc(var(--k,1)*3.40px)"/>
<path d="M213.3,1776.7 C240.0,1773.9 315.6,1767.2 373.3,1760.0 C431.1,1752.8 528.9,1737.8 560.0,1733.3" vector-effect="non-scaling-stroke" style="stroke-width:calc(var(--k,1)*4.20px)"/>
<path d="M738.7,1513.3 L668.7,1666.7" vector-effect="non-scaling-stroke" style="stroke-width:calc(var(--k,1)*3.40px)"/>
<path d="M750.3,1513.3 L682.0,1666.7" vector-effect="non-scaling-stroke" style="stroke-width:calc(var(--k,1)*3.40px)"/>
<path d="M874.7,1517.3 L779.3,1690.7" vector-effect="non-scaling-stroke" style="stroke-width:calc(var(--k,1)*4.20px)"/>
<path d="M866.0,1520.7 L825.3,1596.7" vector-effect="non-scaling-stroke" style="stroke-width:calc(var(--k,1)*3.00px)" stroke-dasharray="14 5"/>
<path d="M992.0,1467.3 L866.0,1680.7" vector-effect="non-scaling-stroke" style="stroke-width:calc(var(--k,1)*4.20px)"/>
<path d="M982.7,1470.7 L925.3,1566.7" vector-effect="non-scaling-stroke" style="stroke-width:calc(var(--k,1)*3.00px)" stroke-dasharray="14 5"/>
<path d="M1025.3,1536.7 L929.3,1677.3" vector-effect="non-scaling-stroke" style="stroke-width:calc(var(--k,1)*4.60px)"/>
<path d="M1033.7,1540.0 L939.3,1677.3" vector-effect="non-scaling-stroke" style="stroke-width:calc(var(--k,1)*3.00px)"/>
<path d="M1058.7,1563.3 L988.7,1660.0" vector-effect="non-scaling-stroke" style="stroke-width:calc(var(--k,1)*3.00px)" stroke-dasharray="14 6"/>
<path d="M785.3,1694.0 C797.6,1693.3 830.9,1691.2 858.7,1690.0 C886.4,1688.8 932.0,1688.3 952.0,1686.7 C972.0,1685.0 972.0,1683.9 978.7,1680.0 C985.3,1676.1 989.8,1666.1 992.0,1663.3" vector-effect="non-scaling-stroke" style="stroke-width:calc(var(--k,1)*3.60px)"/>
<path d="M792.0,1687.3 C817.0,1685.7 912.6,1680.2 942.0,1677.3 C971.4,1674.4 961.4,1675.7 968.7,1670.0 C975.9,1664.3 982.6,1647.8 985.3,1643.3" vector-effect="non-scaling-stroke" style="stroke-width:calc(var(--k,1)*3.60px)"/>
<path d="M1085.3,1530.0 L992.0,1663.3" vector-effect="non-scaling-stroke" style="stroke-width:calc(var(--k,1)*3.60px)"/>
<path d="M1072.0,1506.7 L985.3,1643.3" vector-effect="non-scaling-stroke" style="stroke-width:calc(var(--k,1)*3.60px)" stroke-dasharray="14 6"/>
</g>
</defs>
<!-- top.svg -->
<g id="p_top" style="--k:1"><use href="#frame"/><use href="#roof"/><use href="#liner"/><use href="#mirror"/><g fill="none" stroke="#000" stroke-linecap="round" stroke-linejoin="round">
<path d="M1124.0,200.0 L1046.7,260.0" vector-effect="non-scaling-stroke" style="stroke-width:calc(var(--k,1)*2.60px)" stroke-dasharray="26 8 5 8"/>
<path d="M1124.0,243.3 L1093.3,263.3" vector-effect="non-scaling-stroke" style="stroke-width:calc(var(--k,1)*2.60px)" stroke-dasharray="26 8 5 8"/>
<path d="M1035.0,306.7 L1013.3,320.0" vector-effect="non-scaling-stroke" style="stroke-width:calc(var(--k,1)*2.60px)" stroke-dasharray="26 8 5 8"/>
<path d="M1006.7,326.7 L966.7,356.7" vector-effect="non-scaling-stroke" style="stroke-width:calc(var(--k,1)*2.60px)" stroke-dasharray="26 8 5 8"/>
<path d="M611.7,681.7 C623.1,673.1 657.5,648.1 680.0,630.0 C702.5,611.9 724.4,592.2 746.7,573.3 C768.9,554.4 794.4,532.8 813.3,516.7 C832.2,500.6 846.1,487.8 860.0,476.7 C873.9,465.6 890.6,454.4 896.7,450.0" vector-effect="non-scaling-stroke" style="stroke-width:calc(var(--k,1)*3.00px)" stroke-dasharray="40 5"/>
<path d="M910.0,458.3 C916.1,454.7 932.2,443.6 946.7,436.7 C961.1,429.7 980.0,421.9 996.7,416.7 C1013.3,411.4 1030.0,407.9 1046.7,405.0 C1063.3,402.1 1083.8,400.4 1096.7,399.3 C1109.6,398.2 1119.4,398.5 1124.0,398.3" vector-effect="non-scaling-stroke" style="stroke-width:calc(var(--k,1)*3.00px)"/>
<path d="M630.0,684.0 C649.4,668.3 708.9,620.4 746.7,590.0 C784.4,559.6 829.4,522.8 856.7,501.7 C883.9,480.6 901.1,469.7 910.0,463.3" vector-effect="non-scaling-stroke" style="stroke-width:calc(var(--k,1)*3.00px)" stroke-dasharray="14 5"/>
<path d="M647.8,729.8 L1052.8,404.8" vector-effect="non-scaling-stroke" style="stroke-width:calc(var(--k,1)*3.20px)" stroke-dasharray="24 4"/>
<path d="M652.2,735.2 L1057.2,410.2" vector-effect="non-scaling-stroke" style="stroke-width:calc(var(--k,1)*3.20px)" stroke-dasharray="9 5"/>
<path d="M852.9,689.7 L1247.9,397.2" vector-effect="non-scaling-stroke" style="stroke-width:calc(var(--k,1)*3.20px)" stroke-dasharray="24 4"/>
<path d="M857.1,695.3 L1252.1,402.8" vector-effect="non-scaling-stroke" style="stroke-width:calc(var(--k,1)*3.20px)" stroke-dasharray="9 5"/>
<path d="M1048.0,662.2 L1413.0,399.7" vector-effect="non-scaling-stroke" style="stroke-width:calc(var(--k,1)*3.20px)" stroke-dasharray="24 4"/>
<path d="M1052.0,667.8 L1417.0,405.3" vector-effect="non-scaling-stroke" style="stroke-width:calc(var(--k,1)*3.20px)" stroke-dasharray="9 5"/>
<path d="M770.0,560.0 C760.6,567.2 730.6,590.0 713.3,603.3 C696.1,616.7 678.9,630.6 666.7,640.0 C654.4,649.4 647.8,654.2 640.0,660.0 C632.2,665.8 626.1,670.6 620.0,675.0 C613.9,679.4 607.5,683.1 603.3,686.7 C599.2,690.3 597.1,691.7 595.0,696.7 C592.9,701.7 591.2,710.6 590.7,716.7 C590.1,722.8 591.5,730.6 591.7,733.3" vector-effect="non-scaling-stroke" style="stroke-width:calc(var(--k,1)*3.00px)" stroke-dasharray="40 5"/>
<path d="M756.7,580.0 C746.1,587.8 711.7,612.2 693.3,626.7 C675.0,641.1 658.3,657.2 646.7,666.7 C635.0,676.1 629.7,678.3 623.3,683.3 C616.9,688.3 611.9,691.7 608.3,696.7 C604.7,701.7 602.1,707.8 601.7,713.3 C601.3,718.9 605.3,727.2 606.0,730.0" vector-effect="non-scaling-stroke" style="stroke-width:calc(var(--k,1)*3.00px)" stroke-dasharray="14 5"/>
<path d="M591.7,733.3 L646.7,735.0 L693.3,733.3" vector-effect="non-scaling-stroke" style="stroke-width:calc(var(--k,1)*3.00px)"/>
<path d="M896.7,450.0 C905.0,445.6 930.0,431.1 946.7,423.3 C963.3,415.6 980.0,408.6 996.7,403.3 C1013.3,398.1 1030.0,394.4 1046.7,391.7 C1063.3,388.9 1083.8,387.6 1096.7,386.7 C1109.6,385.7 1102.8,386.0 1124.0,386.0 C1145.2,386.0 1190.7,386.3 1224.0,386.7 C1257.3,387.1 1291.8,387.8 1324.0,388.3 C1356.2,388.9 1399.3,389.2 1417.3,390.0 C1435.4,390.8 1429.1,391.4 1432.3,393.3 C1435.6,395.3 1436.9,398.8 1436.7,401.7 C1436.4,404.6 1436.8,403.2 1430.7,410.7 C1424.6,418.2 1407.2,437.8 1400.0,446.7 C1392.8,455.6 1388.7,460.0 1387.3,464.0 C1385.9,468.0 1387.9,469.3 1391.7,470.7 C1395.4,472.1 1397.5,472.3 1410.0,472.3 C1422.5,472.3 1446.1,471.9 1466.7,470.7 C1487.2,469.4 1516.7,467.6 1533.3,465.0 C1550.0,462.4 1555.6,459.2 1566.7,455.0 C1577.8,450.8 1586.1,446.1 1600.0,440.0 C1613.9,433.9 1637.8,423.1 1650.0,418.3 C1662.2,413.6 1665.0,413.2 1673.3,411.7 C1681.7,410.2 1685.6,408.8 1700.0,409.3 C1714.4,409.9 1740.0,412.8 1760.0,415.0 C1780.0,417.2 1805.6,420.7 1820.0,422.7 C1834.4,424.6 1840.6,424.6 1846.7,426.7 C1852.8,428.7 1854.6,431.4 1856.7,435.0 C1858.8,438.6 1859.9,443.9 1859.3,448.3 C1858.8,452.8 1856.6,457.8 1853.3,461.7 C1850.1,465.6 1842.2,470.0 1840.0,471.7" vector-effect="non-scaling-stroke" style="stroke-width:calc(var(--k,1)*4.40px)"/>
<path d="M1124.0,399.3 C1140.7,399.2 1178.0,397.8 1224.0,398.3 C1270.0,398.8 1368.4,401.2 1400.0,402.3 C1431.6,403.4 1412.2,402.6 1413.3,405.0 C1414.4,407.4 1413.6,406.9 1406.7,416.7 C1399.7,426.4 1378.1,454.2 1371.7,463.3 C1365.3,472.5 1367.5,469.3 1368.3,471.7 C1369.2,474.0 1364.7,476.2 1376.7,477.3 C1388.6,478.4 1429.4,478.2 1440.0,478.3" vector-effect="non-scaling-stroke" style="stroke-width:calc(var(--k,1)*3.00px)"/>
<path d="M1456.7,481.7 L1330.0,560.0 L1300.0,575.0" vector-effect="non-scaling-stroke" style="stroke-width:calc(var(--k,1)*5.00px)"/>
<path d="M1673.3,416.7 L1400.0,603.3" vector-effect="non-scaling-stroke" style="stroke-width:calc(var(--k,1)*4.20px)"/>
<path d="M1765.0,422.7 L1513.3,598.3" vector-effect="non-scaling-stroke" style="stroke-width:calc(var(--k,1)*4.20px)"/>
<path d="M1833.3,436.7 L1606.7,573.3" vector-effect="non-scaling-stroke" style="stroke-width:calc(var(--k,1)*4.20px)"/>
<path d="M1650.0,424.0 L1593.3,451.7" vector-effect="non-scaling-stroke" style="stroke-width:calc(var(--k,1)*2.80px)"/>
<path d="M1845.7,470.5 L1682.3,568.9" vector-effect="non-scaling-stroke" style="stroke-width:calc(var(--k,1)*2.80px)" stroke-dasharray="12 4"/>
<path d="M1841.0,462.8 L1677.7,561.1" vector-effect="non-scaling-stroke" style="stroke-width:calc(var(--k,1)*2.80px)" stroke-dasharray="12 4"/>
<path d="M1418.9,406.6 L1302.3,486.6" vector-effect="non-scaling-stroke" style="stroke-width:calc(var(--k,1)*2.80px)" stroke-dasharray="9 4"/>
<path d="M1414.4,400.0 L1297.7,480.0" vector-effect="non-scaling-stroke" style="stroke-width:calc(var(--k,1)*2.80px)" stroke-dasharray="9 4"/>
<path d="M1449.2,489.8 L1399.2,529.8" vector-effect="non-scaling-stroke" style="stroke-width:calc(var(--k,1)*2.80px)" stroke-dasharray="9 4"/>
<path d="M1444.2,483.5 L1394.2,523.5" vector-effect="non-scaling-stroke" style="stroke-width:calc(var(--k,1)*2.80px)" stroke-dasharray="9 4"/>
<path d="M1400.0,603.3 L1416.7,616.0" vector-effect="non-scaling-stroke" style="stroke-width:calc(var(--k,1)*2.80px)"/>
<path d="M1800.0,496.7 L1743.3,553.3 L1700.0,603.3" vector-effect="non-scaling-stroke" style="stroke-width:calc(var(--k,1)*2.80px)" stroke-dasharray="12 5"/>
<path d="M1791.7,503.3 L1733.3,606.7" vector-effect="non-scaling-stroke" style="stroke-width:calc(var(--k,1)*2.80px)" stroke-dasharray="12 5"/>
<path d="M1743.3,553.3 C1741.7,557.8 1735.6,571.7 1733.3,580.0 C1731.1,588.3 1730.6,599.4 1730.0,603.3" vector-effect="non-scaling-stroke" style="stroke-width:calc(var(--k,1)*2.80px)"/>
</g>
<use href="#back"/><use href="#rimfill"/><use href="#dash"/></g>
<g fill="#da0000">
<path id="arrT" d="M694.3,710.1 L783,657.5 Q786.5,655.5 787,660 L789.4,682.8 C836,690 880,712 915,739 C940,760 956,785 961,799 Q962,808 957,809.5 Q953,808 952,806 C935,785 906,764 871,751.4 C845,745 810,747 781.4,755.8 L775.5,779 Q773,783.5 770,779.5 Z"/>
<use href="#arrT" transform="translate(1533.9,594.1) scale(0.743) translate(-694.3,-710.1)"/>
</g>
<!-- bl.svg -->
<g style="--k:1.3"><g transform="translate(529.45,1710) rotate(0.35) scale(0.7954) translate(-1085.25,-624.15)"><use href="#frame"/><use href="#roof"/><use href="#liner"/></g></g><g style="--k:1.05"><use href="#shade"/><g fill="none" stroke="#000" stroke-linecap="round" stroke-linejoin="round">
<path d="M684.0,1405.0 C654.4,1400.7 558.4,1386.6 506.7,1379.0 C454.9,1371.4 403.3,1363.6 373.3,1359.3 C343.3,1355.1 340.0,1354.1 326.7,1353.3 C313.3,1352.6 304.4,1353.3 293.3,1355.0 C282.2,1356.7 268.9,1359.4 260.0,1363.3 C251.1,1367.2 245.0,1371.1 240.0,1378.3 C235.0,1385.6 231.7,1401.9 230.0,1406.7" vector-effect="non-scaling-stroke" style="stroke-width:calc(var(--k,1)*3.60px)"/>
<path d="M173.3,1630.0 C169.7,1645.0 155.8,1701.1 151.7,1720.0 C147.5,1738.9 147.8,1736.1 148.3,1743.3 C148.9,1750.6 150.8,1758.1 155.0,1763.3 C159.2,1768.6 163.6,1772.8 173.3,1775.0 C183.1,1777.2 206.7,1776.4 213.3,1776.7" vector-effect="non-scaling-stroke" style="stroke-width:calc(var(--k,1)*3.60px)"/>
<path d="M232.7,1382.3 C231.7,1386.4 232.1,1388.2 226.7,1406.7 C221.2,1425.2 208.9,1464.1 200.0,1493.3 C191.1,1522.6 181.1,1554.2 173.3,1582.0 C165.6,1609.8 159.0,1636.4 153.3,1660.0 C147.7,1683.6 141.9,1708.3 139.3,1723.3 C136.8,1738.3 136.5,1741.1 138.0,1750.0 C139.5,1758.9 142.4,1769.4 148.3,1776.7 C154.2,1783.9 164.7,1788.6 173.3,1793.3 C181.9,1798.1 183.3,1803.8 200.0,1805.0 C216.7,1806.2 253.9,1802.6 273.3,1800.7 C292.8,1798.7 309.4,1794.6 316.7,1793.3" vector-effect="non-scaling-stroke" style="stroke-width:calc(var(--k,1)*4.60px)"/>
<path d="M236.7,1371.7 C240.6,1369.4 247.8,1363.3 260.0,1358.3 C272.2,1353.3 296.1,1345.0 310.0,1341.7 C323.9,1338.3 331.3,1338.1 343.3,1338.3 C355.3,1338.6 354.8,1338.9 382.0,1343.3 C409.2,1347.8 456.3,1356.7 506.7,1365.0 C557.0,1373.3 654.4,1388.6 684.0,1393.3" vector-effect="non-scaling-stroke" style="stroke-width:calc(var(--k,1)*3.60px)"/>
<path d="M245.7,1289.0 C241.1,1290.8 225.1,1295.7 218.3,1300.0 C211.6,1304.3 209.2,1307.8 205.0,1315.0 C200.8,1322.2 198.1,1330.3 193.3,1343.3 C188.6,1356.4 183.3,1372.5 176.7,1393.3 C170.0,1414.2 160.6,1444.7 153.3,1468.3 C146.1,1491.9 139.2,1516.1 133.3,1535.0 C127.5,1553.9 120.8,1574.2 118.3,1582.0" vector-effect="non-scaling-stroke" style="stroke-width:calc(var(--k,1)*3.00px)"/>
<path d="M684.0,1393.3 C686.4,1395.6 694.6,1402.2 698.7,1406.7 C702.8,1411.1 707.0,1407.8 708.7,1420.0 C710.3,1432.2 707.6,1467.8 708.7,1480.0 C709.8,1492.2 710.9,1490.3 715.3,1493.3 C719.8,1496.4 724.8,1496.9 735.3,1498.3 C745.9,1499.7 771.4,1501.1 778.7,1501.7" vector-effect="non-scaling-stroke" style="stroke-width:calc(var(--k,1)*3.60px)"/>
<path d="M684.0,1405.0 C685.1,1406.9 688.4,1412.5 690.3,1416.7 C692.2,1420.8 694.8,1418.9 695.3,1430.0 C695.9,1441.1 692.6,1471.4 693.7,1483.3 C694.8,1495.3 696.7,1497.2 702.0,1501.7 C707.3,1506.1 712.6,1508.1 725.3,1510.0 C738.1,1511.9 769.8,1512.8 778.7,1513.3" vector-effect="non-scaling-stroke" style="stroke-width:calc(var(--k,1)*3.60px)"/>
<path d="M885.3,1446.7 C889.8,1445.6 899.8,1440.0 912.0,1440.0 C924.2,1440.0 934.8,1441.1 958.7,1446.7 C982.6,1452.2 1035.9,1466.7 1055.3,1473.3 C1074.8,1480.0 1069.8,1481.1 1075.3,1486.7 C1080.9,1492.2 1087.0,1499.4 1088.7,1506.7 C1090.3,1513.9 1085.9,1526.1 1085.3,1530.0" vector-effect="non-scaling-stroke" style="stroke-width:calc(var(--k,1)*3.60px)"/>
<path d="M1055.3,1486.7 L1072.0,1506.7" vector-effect="non-scaling-stroke" style="stroke-width:calc(var(--k,1)*3.60px)"/>
</g>
</g><g style="--k:1.3"><g transform="translate(529.45,1710) rotate(0.35) scale(0.7954) translate(-1085.25,-624.15)"><use href="#mirror"/></g></g><g style="--k:0.9"><g transform="translate(529.45,1710) rotate(0.35) scale(0.7954) translate(-1085.25,-624.15)"><use href="#back"/><use href="#rimfill"/><use href="#dash"/></g></g>
<g fill="#da0000">
<path d="M345.5,1388.2 L434,1402.3 Q438.5,1403.5 436,1407 L424.8,1420.5 C444,1441 462,1467 475.3,1497.8 C483,1520 486.5,1545 485.4,1565.1 C484.5,1583 480,1598 474.5,1607 Q471.5,1611 469.5,1606 C471,1590 468.5,1568 463.2,1553 C452,1520 425,1490 383.8,1462.2 L365.5,1477.5 Q362,1480.5 360.8,1476 Z"/>
<path d="M992.6,1473.6 L1046,1491 Q1049.8,1492.5 1047.8,1495.5 L1042.3,1502.1 C1053,1518 1065,1540 1073.2,1563.1 C1077,1578 1078.5,1595 1076.2,1607.3 Q1074,1615 1071.3,1617.2 Q1068,1617.5 1067.3,1613.2 C1066,1595 1060,1575 1044.7,1550.3 C1036,1540 1027,1532 1017.2,1524.7 L1004.5,1533.5 Q1001.5,1535.5 1001,1532 Z"/>
</g>
<!-- br.svg -->
<g style="--k:0.95"><g transform="translate(1745.65,1724.65) rotate(0.74) scale(0.787) translate(-1085.25,-624.15)"><use href="#frame"/><use href="#liner"/></g></g><g style="--k:1.0"><g transform="translate(1218,-2)"><use href="#shade"/></g><g fill="none" stroke="#000" stroke-linecap="round" stroke-linejoin="round">
<path d="M1466.7,1351.7 L1450.0,1396.7 L1420.0,1510.0 L1423.3,1523.3 L1431.7,1529.0 L1483.3,1536.7 L1650.0,1544.0 L1783.3,1555.0 L1833.3,1550.0 L1894.0,1530.0 L1928.0,1511.7 L1944.7,1463.3 L1964.7,1408.3 L1894.7,1386.7 L1546.7,1327.3 L1540.0,1345.0 L1483.3,1341.7Z" fill="#fff" stroke="#000" vector-effect="non-scaling-stroke" style="stroke-width:calc(var(--k,1)*3.30px)"/>
<path d="M1596.7,1403.3 C1612.8,1402.9 1654.4,1410.4 1683.3,1414.3 C1712.2,1418.2 1754.3,1422.9 1770.0,1426.7 C1785.7,1430.4 1778.4,1430.3 1777.3,1436.7 C1776.2,1443.1 1767.9,1455.6 1763.3,1465.0 C1758.8,1474.4 1754.3,1486.9 1750.0,1493.3 C1745.7,1499.7 1753.4,1502.3 1737.3,1503.3 C1721.2,1504.3 1681.2,1500.7 1653.3,1499.3 C1625.4,1497.9 1584.7,1497.1 1570.0,1495.0 C1555.3,1492.9 1564.0,1493.9 1565.0,1486.7 C1566.0,1479.4 1572.4,1463.3 1576.0,1451.7 C1579.6,1440.0 1583.2,1424.7 1586.7,1416.7 C1590.1,1408.6 1580.6,1403.7 1596.7,1403.3Z" vector-effect="non-scaling-stroke" style="stroke-width:calc(var(--k,1)*3.30px)"/>
<path d="M2124.7,1446.7 L2138.0,1434.0 L2158.0,1430.0 L2184.7,1434.0 L2321.3,1467.3 L2304.7,1506.7 L2278.0,1550.0 L2258.0,1565.0 L2231.3,1566.7 L2174.7,1565.0 L2138.0,1560.0 L2118.0,1550.0 L2104.7,1531.7 L2118.0,1460.0Z" fill="#fff" stroke="#000" vector-effect="non-scaling-stroke" style="stroke-width:calc(var(--k,1)*3.30px)"/>
<path d="M2204.7,1486.7 C2210.2,1486.1 2222.4,1488.6 2231.3,1489.7 C2240.2,1490.8 2252.7,1491.6 2258.0,1493.3 C2263.3,1495.1 2264.0,1495.6 2263.0,1500.0 C2262.0,1504.4 2255.6,1513.3 2252.0,1520.0 C2248.4,1526.7 2244.2,1536.1 2241.3,1540.0 C2238.4,1543.9 2239.7,1543.2 2234.7,1543.3 C2229.7,1543.5 2219.1,1541.8 2211.3,1541.0 C2203.6,1540.2 2192.7,1540.2 2188.0,1538.3 C2183.3,1536.5 2182.6,1534.4 2183.0,1530.0 C2183.4,1525.6 2188.2,1517.8 2190.7,1511.7 C2193.2,1505.6 2195.7,1497.5 2198.0,1493.3 C2200.3,1489.2 2199.1,1487.3 2204.7,1486.7Z" vector-effect="non-scaling-stroke" style="stroke-width:calc(var(--k,1)*3.30px)"/>
</g>
</g><g style="--k:0.95"><g transform="translate(1745.65,1724.65) rotate(0.74) scale(0.787) translate(-1085.25,-624.15)"><use href="#mirror"/></g></g><g style="--k:1.0"><g fill="none" stroke="#000" stroke-linecap="round" stroke-linejoin="round">
<path d="M1466.7,1351.7 C1463.9,1359.2 1457.2,1372.5 1450.0,1396.7 C1442.8,1420.8 1437.5,1442.2 1423.3,1496.7 C1409.2,1551.1 1375.3,1681.1 1365.0,1723.3 C1354.7,1765.6 1360.8,1741.1 1361.7,1750.0 C1362.5,1758.9 1363.6,1770.0 1370.0,1776.7 C1376.4,1783.3 1386.7,1787.7 1400.0,1790.0 C1413.3,1792.3 1432.8,1791.8 1450.0,1790.7 C1467.2,1789.6 1489.4,1782.9 1503.3,1783.3 C1517.2,1783.8 1528.3,1791.7 1533.3,1793.3" vector-effect="non-scaling-stroke" style="stroke-width:calc(var(--k,1)*4.20px)"/>
<path d="M1366.7,1730.0 C1368.9,1735.6 1372.8,1754.7 1380.0,1763.3 C1387.2,1771.9 1402.2,1778.3 1410.0,1781.7 C1417.8,1785.0 1423.9,1783.1 1426.7,1783.3" vector-effect="non-scaling-stroke" style="stroke-width:calc(var(--k,1)*3.30px)"/>
<path d="M1476.7,1308.3 C1478.9,1303.6 1485.6,1284.8 1490.0,1280.0 C1494.4,1275.2 1493.3,1277.7 1503.3,1279.3 C1513.3,1281.0 1540.6,1286.8 1550.0,1290.0 C1559.4,1293.2 1558.3,1295.8 1560.0,1298.3 C1561.7,1300.8 1560.0,1303.9 1560.0,1305.0" vector-effect="non-scaling-stroke" style="stroke-width:calc(var(--k,1)*3.30px)"/>
<path d="M1476.7,1308.3 C1477.8,1309.4 1478.9,1314.2 1483.3,1315.0 C1487.8,1315.8 1500.0,1313.6 1503.3,1313.3" vector-effect="non-scaling-stroke" style="stroke-width:calc(var(--k,1)*3.30px)"/>
<path d="M1500.0,1306.7 C1501.7,1306.4 1508.6,1303.3 1510.0,1305.0 C1511.4,1306.7 1507.2,1312.5 1508.3,1316.7 C1509.4,1320.8 1512.5,1327.2 1516.7,1330.0 C1520.8,1332.8 1528.9,1333.3 1533.3,1333.3 C1537.8,1333.3 1541.7,1330.6 1543.3,1330.0" vector-effect="non-scaling-stroke" style="stroke-width:calc(var(--k,1)*3.30px)"/>
<path d="M1470.0,1340.0 C1473.3,1338.9 1482.2,1333.1 1490.0,1333.3 C1497.8,1333.6 1508.9,1339.4 1516.7,1341.7 C1524.4,1343.9 1533.3,1345.8 1536.7,1346.7" vector-effect="non-scaling-stroke" style="stroke-width:calc(var(--k,1)*4.50px)"/>
<path d="M1899.7,1380.0 C1900.5,1378.1 1898.3,1369.7 1904.7,1368.3 C1911.1,1366.9 1931.9,1369.4 1938.0,1371.7 C1944.1,1373.9 1940.8,1380.0 1941.3,1381.7" vector-effect="non-scaling-stroke" style="stroke-width:calc(var(--k,1)*3.30px)"/>
<path d="M1899.7,1380.0 C1900.5,1381.7 1898.8,1387.5 1904.7,1390.0 C1910.5,1392.5 1928.6,1396.4 1934.7,1395.0 C1940.8,1393.6 1940.2,1383.9 1941.3,1381.7" vector-effect="non-scaling-stroke" style="stroke-width:calc(var(--k,1)*3.30px)"/>
<path d="M1904.7,1390.0 C1904.1,1393.3 1900.8,1405.3 1901.3,1410.0 C1901.9,1414.7 1904.1,1416.7 1908.0,1418.3 C1911.9,1420.0 1920.8,1421.1 1924.7,1420.0 C1928.6,1418.9 1929.9,1415.8 1931.3,1411.7 C1932.7,1407.5 1932.7,1397.8 1933.0,1395.0" vector-effect="non-scaling-stroke" style="stroke-width:calc(var(--k,1)*3.30px)"/>
<path d="M1964.7,1403.3 L2024.7,1418.3" vector-effect="non-scaling-stroke" style="stroke-width:calc(var(--k,1)*3.30px)"/>
<path d="M1963.0,1411.7 L2023.0,1426.7" vector-effect="non-scaling-stroke" style="stroke-width:calc(var(--k,1)*3.30px)"/>
<path d="M2021.3,1421.7 C2021.9,1420.2 2021.9,1414.6 2024.7,1412.7 C2027.4,1410.7 2033.0,1409.9 2038.0,1410.0 C2043.0,1410.1 2051.3,1411.1 2054.7,1413.3 C2058.0,1415.6 2057.4,1421.7 2058.0,1423.3" vector-effect="non-scaling-stroke" style="stroke-width:calc(var(--k,1)*3.30px)"/>
<path d="M2021.3,1421.7 L2024.7,1450.0" vector-effect="non-scaling-stroke" style="stroke-width:calc(var(--k,1)*3.30px)"/>
<path d="M2058.0,1423.3 L2056.3,1450.0" vector-effect="non-scaling-stroke" style="stroke-width:calc(var(--k,1)*3.30px)"/>
<path d="M2038.0,1416.7 L2038.7,1451.7" vector-effect="non-scaling-stroke" style="stroke-width:calc(var(--k,1)*3.30px)"/>
<path d="M2058.0,1430.0 L2124.7,1446.7" vector-effect="non-scaling-stroke" style="stroke-width:calc(var(--k,1)*3.30px)"/>
<path d="M2058.0,1438.3 L2118.0,1453.3" vector-effect="non-scaling-stroke" style="stroke-width:calc(var(--k,1)*3.30px)"/>
<path d="M2158.0,1420.0 C2161.9,1418.9 2179.9,1421.4 2184.7,1423.3 C2189.4,1425.3 2190.2,1430.6 2186.3,1431.7 C2182.4,1432.8 2166.1,1431.9 2161.3,1430.0 C2156.6,1428.1 2154.1,1421.1 2158.0,1420.0Z" vector-effect="non-scaling-stroke" style="stroke-width:calc(var(--k,1)*3.30px)"/>
<path d="M2166.3,1431.7 C2166.1,1435.3 2163.3,1449.4 2164.7,1453.3 C2166.1,1457.2 2172.7,1458.3 2174.7,1455.0 C2176.6,1451.7 2176.1,1436.9 2176.3,1433.3" vector-effect="non-scaling-stroke" style="stroke-width:calc(var(--k,1)*3.30px)"/>
<path d="M2294.7,1463.3 C2296.9,1459.4 2306.3,1458.9 2311.3,1460.0 C2316.3,1461.1 2323.0,1465.6 2324.7,1470.0 C2326.3,1474.4 2324.1,1482.8 2321.3,1486.7 C2318.6,1490.6 2311.9,1493.9 2308.0,1493.3 C2304.1,1492.8 2300.2,1488.3 2298.0,1483.3 C2295.8,1478.3 2292.4,1467.2 2294.7,1463.3Z" fill="#000" stroke="#000" vector-effect="non-scaling-stroke" style="stroke-width:calc(var(--k,1)*3.30px)"/>
<path d="M2324.7,1493.3 L2361.3,1513.3" vector-effect="non-scaling-stroke" style="stroke-width:calc(var(--k,1)*3.30px)"/>
<path d="M2361.3,1515.0 L2251.3,1696.7" vector-effect="non-scaling-stroke" style="stroke-width:calc(var(--k,1)*3.30px)" stroke-dasharray="14 6"/>
<path d="M2354.7,1545.0 L2238.0,1730.0" vector-effect="non-scaling-stroke" style="stroke-width:calc(var(--k,1)*3.30px)" stroke-dasharray="14 6"/>
</g>
</g><g style="--k:0.85"><g transform="translate(1745.65,1724.65) rotate(0.74) scale(0.787) translate(-1085.25,-624.15)"><use href="#back"/><use href="#rimfill"/><use href="#dash"/></g></g>
<g fill="#da0000">
<path id="arrR" d="M1648.6,1540.3 L1730.5,1503.5 Q1733.5,1502 1733.6,1505.5 L1734.3,1526.6 C1760,1522 1778,1500 1780.9,1464.5 C1781.5,1445 1781,1428 1780.3,1414.8 Q1781.5,1410.5 1785.5,1413 C1795,1432 1806,1465 1805.8,1483.2 C1806,1525 1790,1555 1760.4,1572.6 C1748,1578.5 1733,1582 1720.1,1582.5 L1715,1618.5 Q1713,1623 1710,1620.5 Z"/>
<use href="#arrR" transform="translate(2228.6,1553.1) scale(0.678) translate(-1648.6,-1540.3)"/>
</g>
</svg>
</body></html>
